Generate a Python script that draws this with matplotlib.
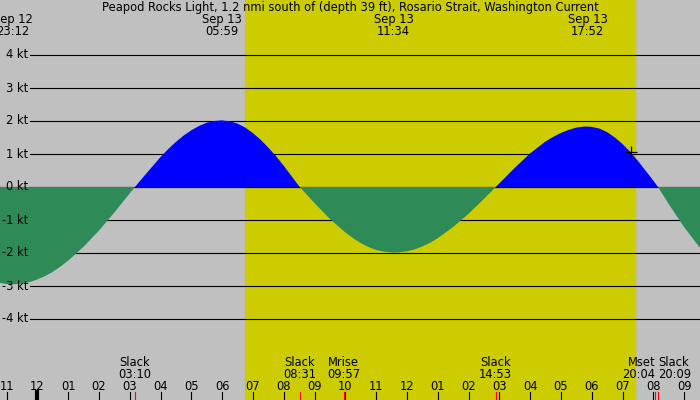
import numpy as np
import matplotlib
matplotlib.use("Agg")
import matplotlib.pyplot as plt

# hours after midnight Sep 13 (negative = Sep 12), current speed in knots
times_h = [-1.5, -1.25, -1.0, -0.8, -0.5, -0.25, 0.0, 0.25, 0.5, 0.75, 1.0, 1.5, 2.0, 2.5, 3.0, 3.167,
           3.5, 4.0, 4.25, 4.5, 4.75, 5.0, 5.25, 5.5, 5.75, 5.983, 6.25, 6.5, 6.75, 7.0, 7.25, 7.5, 7.75,
           8.0, 8.517,
           9.0, 9.5, 10.0, 10.25, 10.5, 10.75, 11.0, 11.25, 11.567, 11.75, 12.0, 12.25, 12.5, 12.75,
           13.0, 13.5, 14.0, 14.5, 14.883,
           15.5, 16.0, 16.5, 16.75, 17.0, 17.25, 17.5, 17.75, 17.867, 18.0, 18.25, 18.5, 18.75,
           19.0, 19.25, 19.5, 20.0, 20.15,
           20.5, 21.0, 21.5, 22.0]
speed_kt = [-2.83, -2.90, -2.94, -2.95, -2.93, -2.88, -2.80, -2.70, -2.57, -2.41, -2.23, -1.81, -1.32, -0.77, -0.19, 0.0,
            0.37, 0.91, 1.15, 1.37, 1.56, 1.72, 1.85, 1.95, 2.00, 2.02, 1.99, 1.92, 1.80, 1.63, 1.43, 1.19, 0.93,
            0.64, 0.0,
            -0.49, -0.97, -1.38, -1.55, -1.70, -1.82, -1.91, -1.96, -1.99, -1.98, -1.95, -1.89, -1.80, -1.69,
            -1.55, -1.21, -0.81, -0.36, 0.0,
            0.58, 1.02, 1.38, 1.52, 1.64, 1.73, 1.80, 1.83, 1.83, 1.82, 1.77, 1.66, 1.50,
            1.30, 1.06, 0.79, 0.19, 0.0,
            -0.52, -1.22, -1.83, -2.30]

# max / min current labels on top
peak_h = [-0.8, 5.983, 11.567, 17.867]
peak_day = ["Sep 12", "Sep 13", "Sep 13", "Sep 13"]
peak_time = ["23:12", "05:59", "11:34", "17:52"]

# events along the bottom
event_h = [3.167, 8.517, 9.95, 14.883, 20.067, 20.15]
event_name = ["Slack", "Slack", "Mrise", "Slack", "Mset", "Slack"]
event_time = ["03:10", "08:31", "09:57", "14:53", "20:04", "20:09"]
event_align = ["center", "center", "center", "center", "right", "left"]

sunrise_h = 6.74
sunset_h = 19.40
now_h, now_kt = 19.27, 1.07

hours = list(range(-1, 22))
hour_labels = ["%02d" % ((h % 12) or 12) for h in hours]
kt_levels = [4, 3, 2, 1, 0, -1, -2, -3, -4]

title = "Peapod Rocks Light, 1.2 nmi south of (depth 39 ft), Rosario Strait, Washington Current"
fs = 8.3

plt.rcParams['font.family'] = ['DejaVu Sans']
fig = plt.figure(figsize=(7, 4), dpi=100)
ax = fig.add_axes([0, 0, 1, 1])
ax.set_xlim(-37.4 / 30.8, (700 - 37.4) / 30.8)
ax.set_ylim((187 - 400) / 33, 187 / 33)
ax.axis("off")
ax.add_patch(plt.Rectangle((0, 0), 1, 1, transform=ax.transAxes, color="#c0c0c0", zorder=0))

ax.axvspan(sunrise_h, sunset_h, color="#cccc00", zorder=1)

x0 = -7.4 / 30.8
for k in kt_levels:
    ax.plot([x0, 30], [k, k], color="black", lw=0.8, zorder=2)
    ax.text(28 / 30.8 - 1.214, k, "%d kt" % k, ha="right", va="center", fontsize=fs, zorder=5)

t = np.array(times_h)
v = np.array(speed_kt)
ax.fill_between(t, v, 0, where=v >= 0, interpolate=True, color="#0000ff", lw=0, zorder=3)
ax.fill_between(t, v, 0, where=v <= 0, interpolate=True, color="#2e8b57", lw=0, zorder=3)
ax.plot(t, 0 * t, color="black", lw=0.8, zorder=2)

ax.plot([now_h], [now_kt], marker="+", color="black", markersize=8, mew=0.9, zorder=6)

tr = ax.get_xaxis_transform()
ax.text(0.5, 1 - 7.5 / 400, title, transform=ax.transAxes, ha="center", va="center", fontsize=fs)
for h, d, s in zip(peak_h, peak_day, peak_time):
    ax.text(h, 1 - 20 / 400, d, transform=tr, ha="center", va="center", fontsize=fs)
    ax.text(h, 1 - 31.5 / 400, s, transform=tr, ha="center", va="center", fontsize=fs)

for h, lab in zip(hours, hour_labels):
    ax.plot([h, h], [0, 8 / 400], transform=tr, color="black", lw=3 if h == 0 else 0.8, zorder=5)
    ax.text(h, 14 / 400, lab, transform=tr, ha="center", va="center", fontsize=fs)

for h, n, s, a in zip(event_h, event_name, event_time, event_align):
    ax.plot([h, h], [0, 8 / 400], transform=tr, color="red", lw=0.8, zorder=6)
    ax.text(h, 38 / 400, n, transform=tr, ha=a, va="center", fontsize=fs)
    ax.text(h, 26 / 400, s, transform=tr, ha=a, va="center", fontsize=fs)

fig.savefig("out.png", dpi=100)
